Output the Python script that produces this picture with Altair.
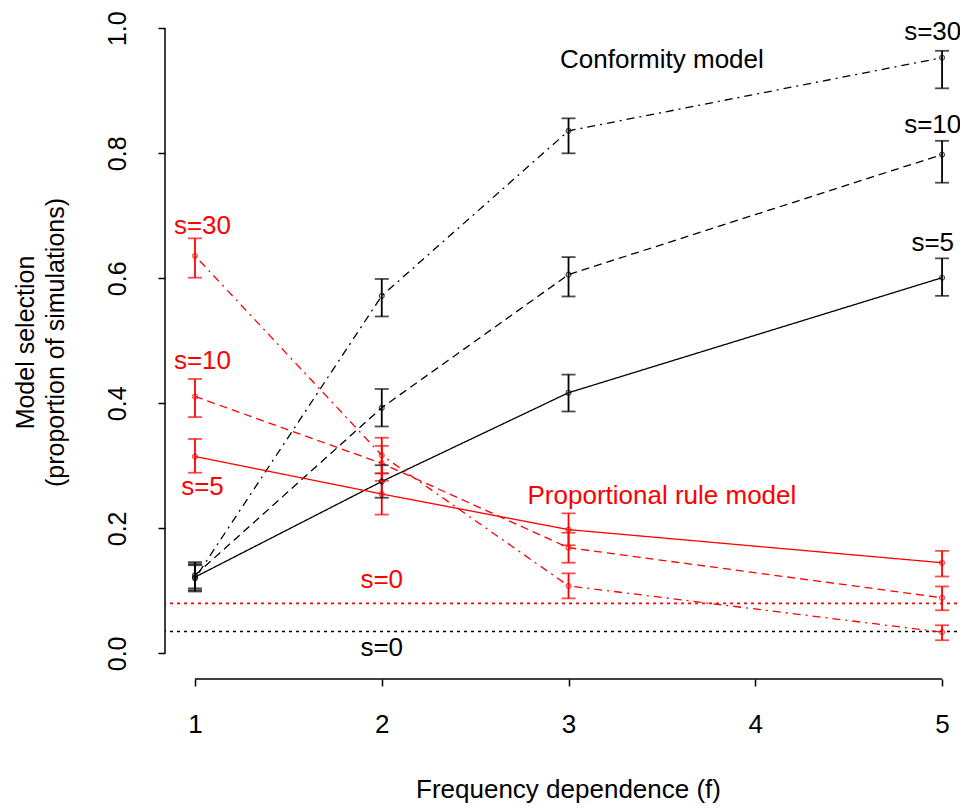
import altair as alt
import pandas as pd

# ---------------- data ----------------
f_vals = [1, 2, 3, 5]

conf_s5 = [0.122, 0.275, 0.417, 0.601]
conf_s5_lo = [0.101, 0.249, 0.387, 0.572]
conf_s5_hi = [0.143, 0.301, 0.446, 0.632]

conf_s10 = [0.125, 0.393, 0.606, 0.798]
conf_s10_lo = [0.104, 0.363, 0.571, 0.753]
conf_s10_hi = [0.146, 0.423, 0.634, 0.820]

conf_s30 = [0.120, 0.572, 0.836, 0.953]
conf_s30_lo = [0.099, 0.539, 0.800, 0.904]
conf_s30_hi = [0.141, 0.599, 0.856, 0.964]

prop_s5 = [0.315, 0.255, 0.198, 0.145]
prop_s5_lo = [0.289, 0.222, 0.173, 0.123]
prop_s5_hi = [0.343, 0.288, 0.224, 0.164]

prop_s10 = [0.411, 0.304, 0.169, 0.089]
prop_s10_lo = [0.378, 0.276, 0.145, 0.069]
prop_s10_hi = [0.439, 0.332, 0.193, 0.107]

prop_s30 = [0.636, 0.317, 0.108, 0.034]
prop_s30_lo = [0.601, 0.288, 0.088, 0.021]
prop_s30_hi = [0.664, 0.345, 0.128, 0.045]

s0_models = ["Conformity", "Proportional"]
s0_values = [0.035, 0.080]

label_text = ["Conformity model", "Proportional rule model",
              "s=30", "s=10", "s=5",
              "s=30", "s=10", "s=5", "s=0", "s=0"]
label_model = ["Conformity", "Proportional",
               "Conformity", "Conformity", "Conformity",
               "Proportional", "Proportional", "Proportional", "Proportional", "Conformity"]
label_x = [3.5, 3.5, 4.95, 4.95, 4.95, 1.04, 1.04, 1.04, 2.0, 2.0]
label_y = [0.949, 0.251, 0.994, 0.845, 0.656, 0.684, 0.467, 0.266, 0.117, 0.008]

x_ticks = [1, 2, 3, 4, 5]
y_ticks = [0.0, 0.2, 0.4, 0.6, 0.8, 1.0]

# ---------------- tables ----------------
series = [
    ("Conformity", "5", conf_s5, conf_s5_lo, conf_s5_hi),
    ("Conformity", "10", conf_s10, conf_s10_lo, conf_s10_hi),
    ("Conformity", "30", conf_s30, conf_s30_lo, conf_s30_hi),
    ("Proportional", "5", prop_s5, prop_s5_lo, prop_s5_hi),
    ("Proportional", "10", prop_s10, prop_s10_lo, prop_s10_hi),
    ("Proportional", "30", prop_s30, prop_s30_lo, prop_s30_hi),
]
rows = []
for model, s, vals, los, his in series:
    for f, v, lo, hi in zip(f_vals, vals, los, his):
        rows.append({"model": model, "s": s, "f": f, "val": v, "lo": lo, "hi": hi})
df = pd.DataFrame(rows)

s0_df = pd.DataFrame({"model": s0_models, "val": s0_values})
lab_df = pd.DataFrame({"text": label_text, "model": label_model, "x": label_x, "y": label_y})

# ---------------- styling ----------------
FONT = "Liberation Sans, Arial, sans-serif"
W, H = 792, 671
X_DOM = [0.8394, 5.080]
Y_DOM = [-0.041, 1.0325]

xscale = alt.Scale(domain=X_DOM, nice=False, zero=False)
yscale = alt.Scale(domain=Y_DOM, nice=False, zero=False)

x_axis = alt.Axis(
    values=x_ticks, format="d", domain=False, grid=False,
    tickSize=7, tickWidth=1.5, tickColor="black",
    labelFont=FONT, labelFontSize=26, labelColor="black",
    labelPadding=25, labelBaseline="top", labelAlign="center",
    labelFlush=False, labelOverlap=False,
    title="Frequency dependence (f)", titleFont=FONT, titleFontSize=26,
    titleFontWeight="normal", titleColor="black",
    titleX=403, titleY=110, titleAlign="center", titleBaseline="middle",
)
y_axis = alt.Axis(
    values=y_ticks, format=".1f", domain=False, grid=False,
    tickSize=7, tickWidth=1.5, tickColor="black",
    labelFont=FONT, labelFontSize=25, labelColor="black",
    labelAngle=270, labelAlign="center", labelBaseline="middle",
    labelPadding=41, labelFlush=False, labelOverlap=False,
    title=["Model selection", "(proportion of simulations)"],
    titleFont=FONT, titleFontSize=25, titleFontWeight="normal", titleColor="black",
    titleAngle=270, titleX=-140, titleY=334, titleAlign="center",
    titleBaseline="middle", titleLineHeight=30,
)


def X(field):
    return alt.X(field, type="quantitative", scale=xscale, axis=x_axis)


def Y(field):
    return alt.Y(field, type="quantitative", scale=yscale, axis=y_axis)


color = alt.Color("model:N",
                  scale=alt.Scale(domain=["Conformity", "Proportional"],
                                  range=["#000000", "#FF0000"]),
                  legend=None)
dash = alt.StrokeDash("s:N",
                      scale=alt.Scale(domain=["5", "10", "30"],
                                      range=[[1, 0], [8, 5], [2, 5, 8, 5]]),
                      legend=None)

base = alt.Chart(df)

lines = base.mark_line(strokeWidth=1.3).encode(x=X("f"), y=Y("val"), color=color, strokeDash=dash)
bars = base.mark_rule(strokeWidth=1.8).encode(x=X("f"), y=Y("lo"), y2="hi", color=color)
caps = base.transform_fold(["lo", "hi"], as_=["end", "yv"]).mark_tick(
    orient="horizontal", size=14, thickness=1.8
).encode(x=X("f"), y=Y("yv"), color=color)
pts = base.mark_point(shape="circle", filled=False, size=24, strokeWidth=1.2).encode(
    x=X("f"), y=Y("val"), color=color)

hlines = alt.Chart(s0_df).mark_rule(strokeDash=[3, 4], strokeWidth=1.7).encode(
    y=Y("val"), color=color)

texts = alt.Chart(lab_df).mark_text(font=FONT, fontSize=26, align="center", baseline="middle").encode(
    x=X("x"), y=Y("y"), text="text:N", color=color)

yline = alt.Chart(pd.DataFrame({"y0": [y_ticks[0]], "y1": [y_ticks[-1]]})).mark_rule(
    strokeWidth=1.5, color="black").encode(x=alt.value(0), y=Y("y0"), y2="y1")
xline = alt.Chart(pd.DataFrame({"x0": [x_ticks[0]], "x1": [x_ticks[-1]]})).mark_rule(
    strokeWidth=1.5, color="black").encode(x=X("x0"), x2="x1", y=alt.value(H))

chart = alt.layer(hlines, lines, bars, caps, pts, texts, yline, xline).properties(
    width=W, height=H,
    autosize=alt.AutoSizeParams(type="none"),
    padding={"left": 157, "top": 0, "right": 3, "bottom": 128},
    background="white",
).configure_view(stroke=None)

chart.save("out.html", embed_options={"renderer": "svg", "actions": False})
